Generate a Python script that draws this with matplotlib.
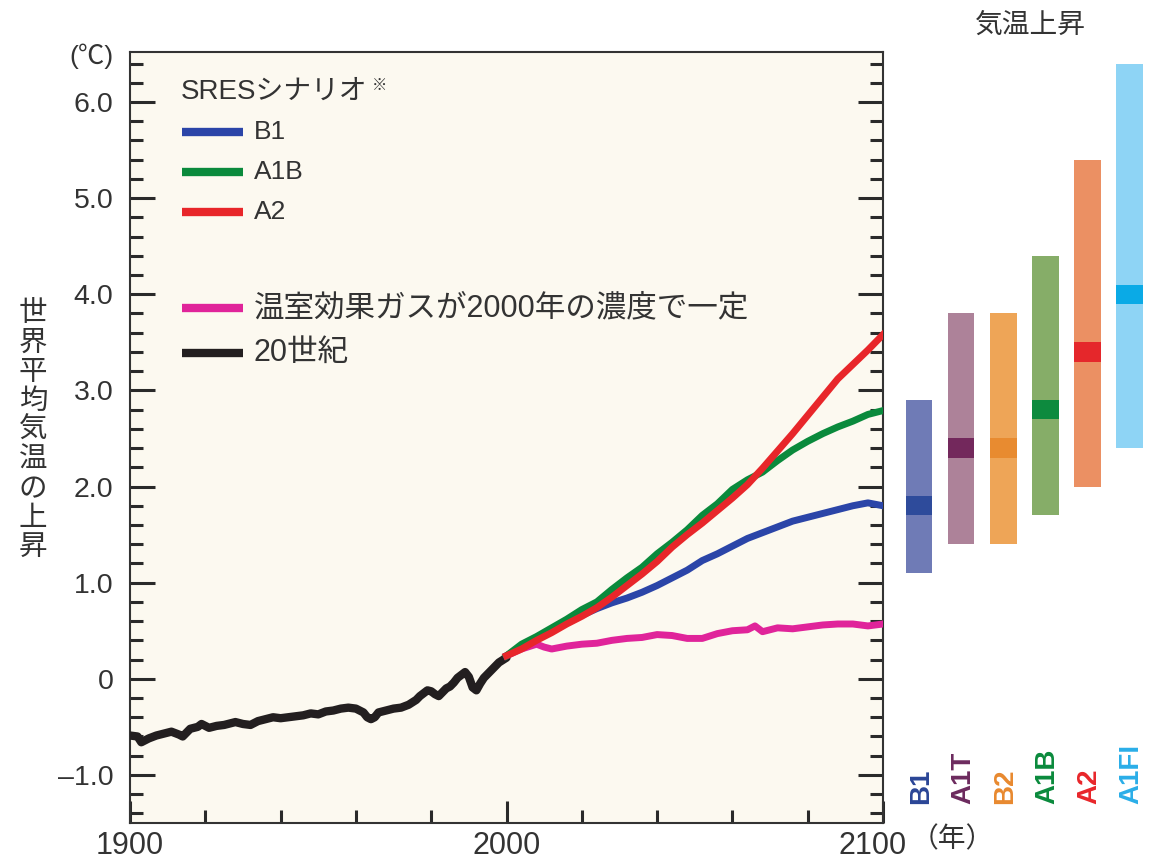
import numpy as np
import matplotlib
matplotlib.use("Agg")
from matplotlib import pyplot as plt
from matplotlib.ticker import MultipleLocator, FixedLocator, FixedFormatter
from matplotlib.transforms import ScaledTranslation

plt.rcParams['font.family'] = ['Liberation Sans', 'Noto Sans CJK JP']
TXT = '#333333'

# --- 20th century observed (black) ---
hist_years = [1900, 1902, 1903, 1905, 1907, 1909, 1911, 1913, 1914, 1916, 1918, 1919,
              1921, 1923, 1925, 1928, 1930, 1932, 1934, 1936, 1938, 1940, 1942, 1944,
              1946, 1948, 1950, 1952, 1954, 1956, 1958, 1960, 1962, 1963, 1964, 1965,
              1966, 1968, 1970, 1972, 1974, 1976, 1977, 1978, 1979, 1980, 1981, 1982,
              1983, 1984, 1985, 1986, 1987, 1988, 1989, 1990, 1991, 1992, 1993, 1994,
              1996, 1998, 2000]
hist_temp = [-0.59, -0.60, -0.66, -0.62, -0.59, -0.57, -0.55, -0.58, -0.60, -0.52, -0.50, -0.47,
             -0.51, -0.49, -0.48, -0.45, -0.47, -0.48, -0.44, -0.42, -0.40, -0.41, -0.40, -0.39,
             -0.38, -0.36, -0.37, -0.34, -0.33, -0.31, -0.30, -0.31, -0.35, -0.40, -0.42, -0.40,
             -0.35, -0.33, -0.31, -0.30, -0.27, -0.22, -0.18, -0.15, -0.12, -0.13, -0.16, -0.18,
             -0.14, -0.10, -0.08, -0.04, 0.01, 0.04, 0.07, 0.02, -0.09, -0.12, -0.05, 0.01,
             0.09, 0.17, 0.22]

# --- SRES scenarios ---
scen_years = [2000, 2004, 2008, 2012, 2016, 2020, 2024, 2028, 2032, 2036, 2040, 2044, 2048,
              2052, 2056, 2060, 2064, 2068, 2072, 2076, 2080, 2084, 2088, 2092, 2096, 2100]
b1 = [0.24, 0.33, 0.43, 0.51, 0.58, 0.66, 0.73, 0.79, 0.84, 0.90, 0.97, 1.05, 1.13,
      1.23, 1.30, 1.38, 1.46, 1.52, 1.58, 1.64, 1.68, 1.72, 1.76, 1.80, 1.83, 1.80]
a1b = [0.24, 0.36, 0.44, 0.53, 0.62, 0.72, 0.80, 0.93, 1.05, 1.16, 1.30, 1.42, 1.55,
       1.70, 1.82, 1.97, 2.07, 2.15, 2.27, 2.38, 2.47, 2.55, 2.62, 2.68, 2.75, 2.79]
a2 = [0.24, 0.31, 0.40, 0.48, 0.57, 0.65, 0.74, 0.85, 0.97, 1.09, 1.22, 1.37, 1.50,
      1.62, 1.75, 1.88, 2.02, 2.19, 2.37, 2.55, 2.74, 2.93, 3.12, 3.27, 3.42, 3.58]

const_years = [2000, 2004, 2008, 2010, 2012, 2016, 2020, 2024, 2028, 2032, 2036, 2040, 2044,
               2048, 2052, 2056, 2060, 2064, 2066, 2068, 2072, 2076, 2080, 2084, 2088, 2092,
               2096, 2100]
const_temp = [0.24, 0.31, 0.36, 0.33, 0.31, 0.34, 0.36, 0.37, 0.40, 0.42, 0.43, 0.46, 0.45,
              0.42, 0.42, 0.47, 0.50, 0.51, 0.55, 0.49, 0.53, 0.52, 0.54, 0.56, 0.57, 0.57,
              0.55, 0.57]

# --- likely range at 2100 per scenario ---
bar_names = ['B1', 'A1T', 'B2', 'A1B', 'A2', 'A1FI']
bar_best = [1.8, 2.4, 2.4, 2.8, 3.4, 4.0]
bar_low = [1.1, 1.4, 1.4, 1.7, 2.0, 2.4]
bar_high = [2.9, 3.8, 3.8, 4.4, 5.4, 6.4]
bar_light = ['#6f7bb6', '#ad8299', '#eea557', '#86ad68', '#eb9063', '#8ed4f5']
bar_dark = ['#2e4b9b', '#73285c', '#e88b30', '#0d8a3e', '#e5272b', '#0aaae6']
bar_text = ['#2a4596', '#6c2a5e', '#e8892f', '#0a8a3c', '#e8262a', '#2aaee8']

W, H = 1151, 861
fig = plt.figure(figsize=(W / 100, H / 100), dpi=100)

def fx(x):
    return x / W

def fy(y):
    return 1 - y / H

ax = fig.add_axes([fx(130), fy(823), fx(883) - fx(130), fy(52) - fy(823)])
ax.set_facecolor('#fcf9f0')
ax.set_xlim(1900, 2100)
ax.set_ylim(-1.5, 6.52)

ax.plot(hist_years, hist_temp, color='#231f20', lw=6, solid_capstyle='round', zorder=3)
ax.plot(const_years, const_temp, color='#e0249a', lw=5, zorder=3)
ax.plot(scen_years, b1, color='#2b45a8', lw=5, zorder=4)
ax.plot(scen_years, a1b, color='#0a8a3c', lw=5, zorder=5)
ax.plot(scen_years, a2, color='#e8262a', lw=5, zorder=6)

# ticks
ax.yaxis.set_major_locator(FixedLocator([-1, 0, 1, 2, 3, 4, 5, 6]))
ax.yaxis.set_major_formatter(FixedFormatter(['\u20131.0', '0', '1.0', '2.0', '3.0', '4.0', '5.0', '6.0']))
ax.yaxis.set_minor_locator(MultipleLocator(0.2))
ax.xaxis.set_major_locator(FixedLocator([1900, 2000, 2100]))
ax.xaxis.set_minor_locator(MultipleLocator(20))
ax.tick_params(axis='y', which='both', direction='in', left=True, right=True, colors='#2a2a2a',
               labelcolor=TXT, labelsize=20.5, pad=12)
ax.tick_params(axis='y', which='major', length=18, width=2.2)
ax.tick_params(axis='y', which='minor', length=9.5, width=2.2)
ax.tick_params(axis='x', which='both', direction='in', top=False, bottom=True, colors='#2a2a2a',
               labelcolor=TXT, labelsize=22, pad=6)
ax.tick_params(axis='x', which='major', length=16, width=2.2)
ax.tick_params(axis='x', which='minor', length=9.5, width=2.2)
for s in ax.spines.values():
    s.set_color('#333333')
    s.set_linewidth(1.5)

# legend (drawn by hand to keep the gap between groups)
leg_labels = ['B1', 'A1B', 'A2', '温室効果ガスが2000年の濃度で一定', '20世紀']
leg_colors = ['#2b45a8', '#0a8a3c', '#e8262a', '#e0249a', '#231f20']
leg_ypix = [132, 172, 212, 308, 353]
leg_size = [19, 19, 19, 22, 22]

def axy(y):
    return (823 - y) / (823 - 52)

def axx(x):
    return (x - 130) / (883 - 130)

ax.text(axx(181), axy(92), 'SRESシナリオ', transform=ax.transAxes, fontsize=20,
        color=TXT, ha='left', va='center')
ax.text(axx(380), axy(86), '※', transform=ax.transAxes, fontsize=11,
        color=TXT, ha='center', va='center')
for lab, col, yp, fs in zip(leg_labels, leg_colors, leg_ypix, leg_size):
    ax.plot([axx(182), axx(243)], [axy(yp), axy(yp)], transform=ax.transAxes,
            color=col, lw=6, solid_capstyle='butt')
    ax.text(axx(254), axy(yp), lab, transform=ax.transAxes, fontsize=fs,
            color=TXT, ha='left', va='center')

# unit labels
fig.text(fx(91), fy(56), '(℃)', fontsize=19, color=TXT, ha='center', va='center')
fig.text(fx(952), fy(840), '（年）', fontsize=20, color=TXT, ha='center', va='center')

ylab = '世界平均気温の上昇'
for i, ch in enumerate(ylab):
    fig.text(fx(33), fy(313 + i * 29.3), ch, fontsize=20.5, color=TXT,
             ha='center', va='center', family='Noto Sans CJK JP')

# bars on the right
ax2 = fig.add_axes([fx(884), fy(823), 1 - fx(884), fy(52) - fy(823)])
ax2.set_xlim(-0.833, 5.52)
ax2.set_ylim(-1.5, 6.52)
ax2.axis('off')
xpos = np.arange(len(bar_names))
heights = [h - l for h, l in zip(bar_high, bar_low)]
ax2.bar(xpos, heights, bottom=bar_low, width=0.64, color=bar_light)
ax2.bar(xpos, 0.2, bottom=[b - 0.1 for b in bar_best], width=0.64, color=bar_dark)
for x, name, col in zip(xpos, bar_names, bar_text):
    ax2.text(x + 0.05, -1.3, name, rotation=90, ha='center', va='bottom', color=col,
             fontsize=20, fontweight='bold')

fig.text(fx(1030), fy(26), '気温上昇', fontsize=20, color=TXT, ha='center', va='center')

# the 2100 label sits a little left of its tick in the original
fig.canvas.draw()
lbl = ax.get_xticklabels()[-1]
lbl.set_transform(lbl.get_transform() + ScaledTranslation(-10 / 100, 0, fig.dpi_scale_trans))

fig.savefig('out.png', dpi=100)
